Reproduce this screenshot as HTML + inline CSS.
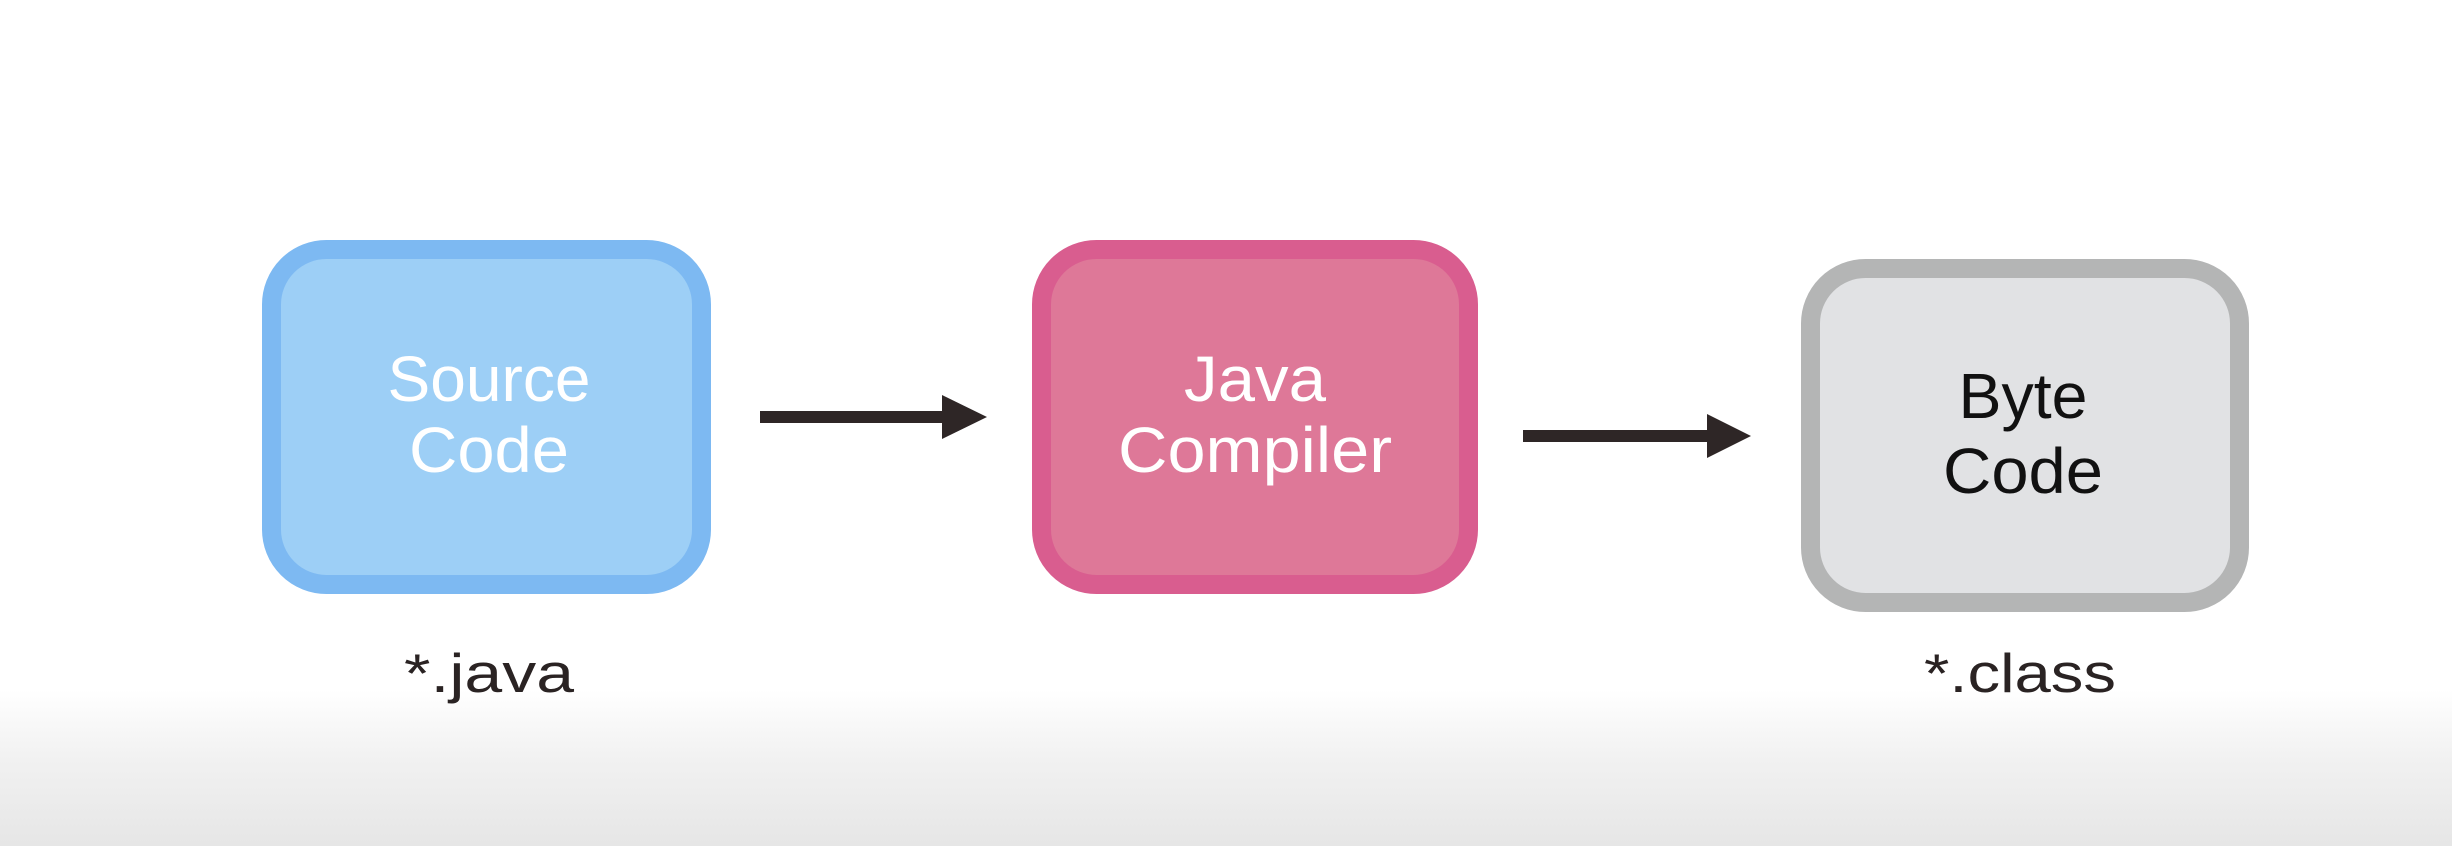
<!DOCTYPE html>
<html><head><meta charset="utf-8"><style>
html,body{margin:0;padding:0;width:2452px;height:846px;overflow:hidden;}
body{background:linear-gradient(to bottom,#ffffff 0px,#ffffff 690px,#f1f1f1 760px,#e6e6e6 846px);}
svg{position:absolute;left:0;top:0;}
text{font-family:"Liberation Sans",sans-serif;text-anchor:middle;}
</style></head><body>
<svg width="2452" height="846" viewBox="0 0 2452 846">
  <rect x="271.5" y="249.5" width="430" height="335" rx="55" fill="#9dcff6" stroke="#7db9f2" stroke-width="19"/>
  <text x="489" y="401" font-size="64" fill="#ffffff" textLength="203" lengthAdjust="spacingAndGlyphs">Source</text>
  <text x="489" y="472" font-size="64" fill="#ffffff" textLength="160" lengthAdjust="spacingAndGlyphs">Code</text>

  <rect x="760" y="411" width="184" height="12" fill="#2e2626"/>
  <polygon points="942,395 987,417 942,439" fill="#2e2626"/>

  <rect x="1041.5" y="249.5" width="427" height="335" rx="55" fill="#de7898" stroke="#d95d8f" stroke-width="19"/>
  <text x="1255" y="401" font-size="64" fill="#ffffff" textLength="142" lengthAdjust="spacingAndGlyphs">Java</text>
  <text x="1255" y="472" font-size="64" fill="#ffffff" textLength="274" lengthAdjust="spacingAndGlyphs">Compiler</text>

  <rect x="1523" y="430" width="186" height="12" fill="#2e2626"/>
  <polygon points="1707,414 1751,436 1707,458" fill="#2e2626"/>

  <rect x="1810.5" y="268.5" width="429" height="334" rx="55" fill="#e1e2e4" stroke="#b4b5b5" stroke-width="19"/>
  <text x="2023" y="418" font-size="64" fill="#111111" textLength="129" lengthAdjust="spacingAndGlyphs">Byte</text>
  <text x="2023" y="493" font-size="64" fill="#111111" textLength="160" lengthAdjust="spacingAndGlyphs">Code</text>

  <text x="489" y="692" font-size="55" fill="#2a2323" textLength="170" lengthAdjust="spacingAndGlyphs">*.java</text>
  <text x="2020" y="692" font-size="55" fill="#2a2323" textLength="192" lengthAdjust="spacingAndGlyphs">*.class</text>
</svg>
</body></html>
